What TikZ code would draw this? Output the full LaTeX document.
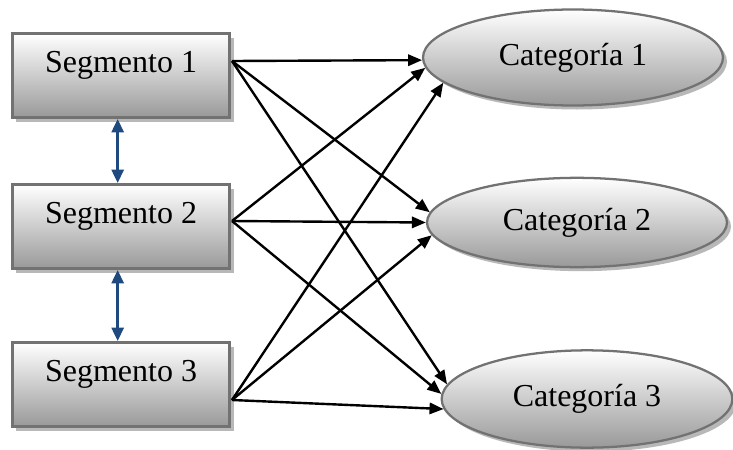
\documentclass[tikz,border=0pt]{standalone}
\usepackage{fontspec}
\setmainfont{Liberation Serif}
\usetikzlibrary{arrows.meta,shapes.geometric,shadows}

\definecolor{linkblue}{HTML}{1F4A80}
\definecolor{rimgray}{HTML}{727272}

\tikzset{
  segbox/.style={rectangle, draw=rimgray, line width=2.2pt,
    top color=white, bottom color=black!40,
    minimum width=163pt, minimum height=63pt,
    text height=16pt, text depth=19.8pt,
    drop shadow={shadow xshift=3pt, shadow yshift=-3pt, fill=black!28, opacity=1},
    font=\fontsize{24}{28}\selectfont},
  catnode/.style={ellipse, draw=rimgray, line width=1.7pt,
    top color=white, bottom color=black!40,
    drop shadow={shadow xshift=3pt, shadow yshift=-3pt, fill=black!28, opacity=1},
    font=\fontsize{24}{28}\selectfont},
  arr/.style={line width=1.8pt, -{Triangle[length=10.5pt,width=8.5pt]}},
  link2/.style={line width=2pt, color=linkblue,
    {Triangle[length=10pt,width=9pt]}-{Triangle[length=10pt,width=9pt]}}
}

\begin{document}
\begin{tikzpicture}[x=0.75pt, y=-0.75pt]
		%%%%% START %%%%%
		\useasboundingbox (0,0) rectangle (733,450);
		
		% segments
		\node[segbox] (seg1) at (121, 75.5) {Segmento 1};
		\node[segbox] (seg2) at (121, 226.5) {Segmento 2};
		\node[segbox] (seg3) at (121, 384.5) {Segmento 3};
		
		% categories
		\node[catnode, minimum width=225pt, minimum height=72pt] (cat1) at (573, 57.5) {Categoría 1};
		\node[catnode, minimum width=225pt, minimum height=67pt] (cat2) at (577, 222.5) {Categoría 2};
		\node[catnode, minimum width=218pt, minimum height=73pt] (cat3) at (587, 399) {Categoría 3};
		
		% starting points on the boxes
		\coordinate (out1) at (232, 61);
		\coordinate (out2) at (232, 221);
		\coordinate (out3) at (232, 400);
		
		\draw[link2] ([xshift=-2.5pt]seg1.south) -- ([xshift=-2.5pt]seg2.north);
		\draw[link2] ([xshift=-2.5pt]seg2.south) -- ([xshift=-2.5pt]seg3.north);
		
		\draw[arr] (out1) -- (cat1.181);
		\draw[arr] (out1) -- (cat2.176);
		\draw[arr] (out1) -- (cat3.174);
		
		\draw[arr] (out2) -- (cat1.184);
		\draw[arr] (out2) -- (cat2.180);
		\draw[arr] (out2) -- (cat3.178);
		
		\draw[arr] (out3) -- (cat1.191);
		\draw[arr] (out3) -- (cat2.185);
		\draw[arr] (out3) -- (cat3.184);
		
		%%%%% END %%%%%
	\end{tikzpicture}
\end{document}
